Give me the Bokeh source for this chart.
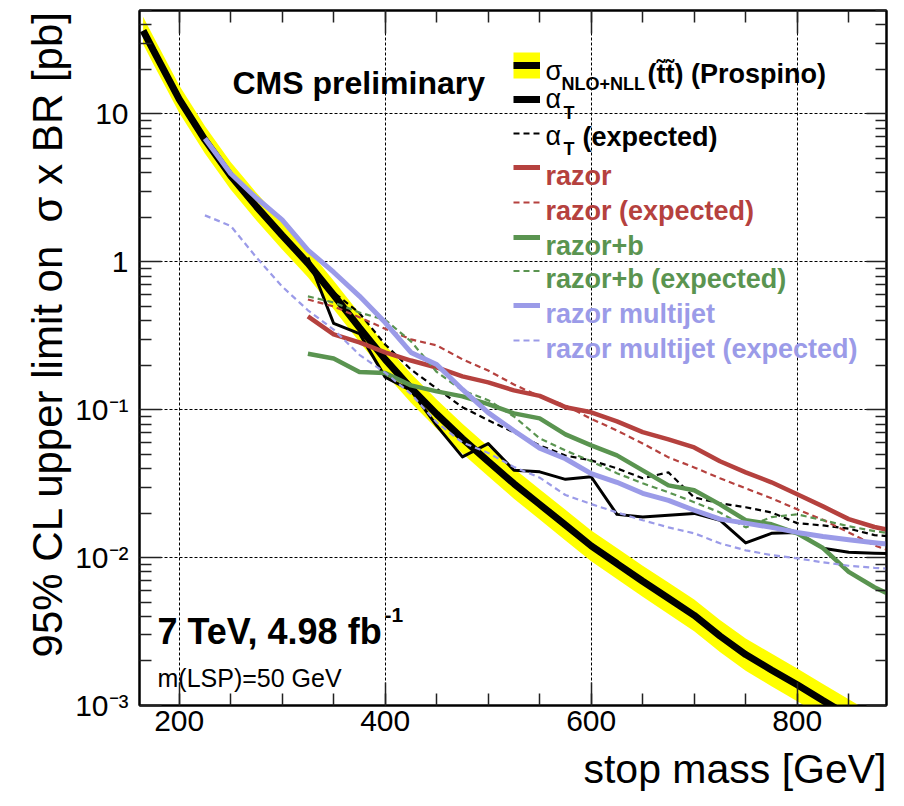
import math

from bokeh.plotting import figure
from bokeh.models import Label, Title, LinearAxis, LogAxis, FixedTicker, SingleIntervalTicker
from bokeh.embed import file_html
from bokeh.resources import INLINE

FONT = "Liberation Sans"

# ---------------------------------------------------------------- data
# NLO+NLL stop-pair cross section (Prospino) and its relative uncertainty
theory_mass = [165, 175, 200, 225, 250, 275, 300, 325, 350, 375, 400, 425, 450, 475, 500,
               525, 550, 575, 600, 625, 650, 675, 700, 725, 750, 775, 800, 825, 850, 875]
theory_xsec = [36.6, 26.9, 12.6, 6.68, 3.82, 2.36, 1.51, 0.977, 0.596, 0.359,
               0.219, 0.140, 0.0933, 0.0638, 0.0447, 0.0316, 0.0229, 0.0166, 0.0120, 0.00912,
               0.00692, 0.00531, 0.00407, 0.00295, 0.00221, 0.00174, 0.00138, 0.00108, 0.000851, 0.000668]
theory_rel_unc = [0.24, 0.24, 0.24, 0.24, 0.24, 0.24, 0.245, 0.245, 0.25, 0.25,
                  0.25, 0.255, 0.255, 0.26, 0.26, 0.265, 0.265, 0.27, 0.27, 0.275,
                  0.275, 0.28, 0.28, 0.285, 0.285, 0.29, 0.29, 0.295, 0.295, 0.30]

# 95% CL upper limits [pb]
signal_mass = [325, 350, 375, 400, 425, 450, 475, 500, 525, 550, 575, 600,
               625, 650, 675, 700, 725, 750, 775, 800, 825, 850, 875, 900]
alphaT_obs = [1.07, 0.383, 0.327, 0.166, 0.135, 0.078, 0.048, 0.059, 0.039, 0.038, 0.0338, 0.0352,
              0.0196, 0.0188, 0.0193, 0.0199, 0.0179, 0.01256, 0.0146, 0.0148, 0.01157, 0.01087, 0.01069, 0.0106]
alphaT_exp = [0.95, 0.62, 0.45, 0.276, 0.187, 0.139, 0.104, 0.0848, 0.0703, 0.0574, 0.049, 0.0454,
              0.0401, 0.0344, 0.0377, 0.0255, 0.0233, 0.0219, 0.0202, 0.0171, 0.0165, 0.0157, 0.0142, 0.0137]
razor_obs = [0.427, 0.323, 0.285, 0.244, 0.215, 0.193, 0.168, 0.153, 0.135, 0.124, 0.104, 0.096,
             0.0834, 0.0706, 0.063, 0.0556, 0.0448, 0.0377, 0.0323, 0.0268, 0.0222, 0.0182, 0.0161, 0.0148]
razor_exp = [0.556, 0.499, 0.421, 0.352, 0.299, 0.272, 0.219, 0.184, 0.148, 0.123, 0.107, 0.0867,
             0.0724, 0.0591, 0.0476, 0.0407, 0.0344, 0.0294, 0.0252, 0.0212, 0.018, 0.0148, 0.0121, 0.0105]
razorb_obs = [0.239, 0.222, 0.180, 0.177, 0.146, 0.133, 0.123, 0.109, 0.0944, 0.0873, 0.0681, 0.0574,
              0.0491, 0.0389, 0.0308, 0.0285, 0.0229, 0.0179, 0.0168, 0.0146, 0.0116, 0.0080, 0.0063, 0.0052]
razorb_exp = [0.584, 0.531, 0.454, 0.405, 0.29, 0.18, 0.135, 0.116, 0.09, 0.064, 0.053, 0.0448,
              0.0372, 0.0318, 0.0276, 0.0237, 0.0202, 0.016, 0.0188, 0.0196, 0.0179, 0.0163, 0.0151, 0.0143]

multijet_mass = [225, 250, 275, 300, 325, 350, 375, 400, 425, 450, 475, 500, 525, 550,
                 575, 600, 625, 650, 675, 700, 725, 750, 775, 800, 825, 850, 875, 900]
multijet_obs = [6.81, 3.95, 2.7, 1.92, 1.2, 0.85, 0.586, 0.388, 0.244, 0.202, 0.137, 0.0955, 0.072, 0.055,
                0.0466, 0.037, 0.0323, 0.0272, 0.0244, 0.0209, 0.0182, 0.0171, 0.016, 0.0148, 0.0139, 0.0132, 0.0126, 0.0121]
multijet_exp = [2.06, 1.75, 1.07, 0.68, 0.47, 0.348, 0.235, 0.178, 0.128, 0.082, 0.060, 0.051, 0.041, 0.0347,
                0.0265, 0.023, 0.0202, 0.0179, 0.016, 0.0146, 0.0125, 0.0112, 0.0104, 0.00989, 0.00929, 0.00881, 0.00853, 0.0083]

x_ticks = [200, 400, 600, 800]
y_ticks = [0.001, 0.01, 0.1, 1, 10]
y_tick_labels = ["10\u207b\u00b3", "10\u207b\u00b2", "10\u207b\u00b9", "1", "10"]

x_title = "stop mass [GeV]"
y_title = "95% CL upper limit on\u00a0 \u03c3 x BR [pb]"

# ---------------------------------------------------------------- style
RED = "#b5413e"
GREEN = "#5a9450"
BLUE = "#9b9be8"
YELLOW = "#ffff00"

W, H = 904, 806
FL, FR, FT, FB = 139, 886, 10, 705          # frame edges in canvas pixels
X_RANGE = (161.5, 886.7)
Y_RANGE = (1e-3, 50.0)


def xd(px):
    """canvas x pixel -> data x"""
    return X_RANGE[0] + (px - FL) * (X_RANGE[1] - X_RANGE[0]) / (FR - FL)


def yd(py):
    """canvas y pixel -> data y (log axis)"""
    l0, l1 = math.log10(Y_RANGE[0]), math.log10(Y_RANGE[1])
    return 10 ** (l0 + (FB - py) * (l1 - l0) / (FB - FT))


p = figure(width=W, height=H, x_range=X_RANGE, y_range=Y_RANGE, y_axis_type="log",
           output_backend="svg", toolbar_location=None,
           min_border_left=FL, min_border_right=W - FR,
           min_border_top=FT, min_border_bottom=H - FB)
p.background_fill_color = "white"
p.border_fill_color = "white"
p.outline_line_color = "black"
p.outline_line_width = 2

x_ticker = SingleIntervalTicker(interval=200, num_minor_ticks=4)
y_minor = [k * 10.0 ** e for e in range(-3, 2) for k in range(2, 10)]
y_ticker = FixedTicker(ticks=y_ticks, minor_ticks=y_minor)


def style_axis(ax, major_in, minor_in, show_labels):
    ax.major_tick_in = major_in
    ax.major_tick_out = 0
    ax.minor_tick_in = minor_in
    ax.minor_tick_out = 0
    ax.major_tick_line_color = "#222222"
    ax.minor_tick_line_color = "#222222"
    ax.major_tick_line_width = 1.5
    ax.minor_tick_line_width = 1.5
    ax.axis_line_color = "black"
    ax.axis_line_width = 2
    if show_labels:
        ax.major_label_text_font = FONT
        ax.major_label_text_font_size = "30px"
        ax.major_label_text_color = "black"
    else:
        # mirrored axis: ticks only
        ax.major_label_text_font_size = "1px"
        ax.major_label_text_alpha = 0
        ax.major_label_standoff = 0


xa = p.xaxis[0]
xa.ticker = x_ticker
style_axis(xa, 23, 12, True)
xa.major_label_standoff = 5

ya = p.yaxis[0]
ya.ticker = y_ticker
ya.major_label_overrides = dict(zip(y_ticks, y_tick_labels))
style_axis(ya, 22, 12, True)
ya.major_label_standoff = 11

top_ax = LinearAxis(ticker=SingleIntervalTicker(interval=200, num_minor_ticks=4))
style_axis(top_ax, 23, 12, False)
p.add_layout(top_ax, "above")

right_ax = LogAxis(ticker=FixedTicker(ticks=y_ticks, minor_ticks=y_minor))
style_axis(right_ax, 20, 11, False)
p.add_layout(right_ax, "right")

# axis titles, right-aligned at the ends of the axes
p.add_layout(Title(text=x_title, align="right", text_font=FONT, text_font_size="41px",
                   text_font_style="normal", text_color="black", standoff=21), "below")
p.add_layout(Title(text=y_title, align="right", text_font=FONT, text_font_size="42px",
                   text_font_style="normal", text_color="black", standoff=3), "left")

for g, t in ((p.xgrid[0], SingleIntervalTicker(interval=200)), (p.ygrid[0], FixedTicker(ticks=y_ticks))):
    g.ticker = t
    g.grid_line_color = "black"
    g.grid_line_width = 1
    g.grid_line_dash = "3 2"

# ---------------------------------------------------------------- curves
band_hi = [x * (1 + u) for x, u in zip(theory_xsec, theory_rel_unc)]
band_lo = [x / (1 + u) for x, u in zip(theory_xsec, theory_rel_unc)]
p.varea(x=theory_mass, y1=band_lo, y2=band_hi, fill_color=YELLOW)
p.line(theory_mass, theory_xsec, line_color="black", line_width=7)

DASH = "6 4"
p.line(signal_mass, alphaT_exp, line_color="black", line_width=2.2, line_dash=DASH)
p.line(signal_mass, alphaT_obs, line_color="black", line_width=3, line_join="round")
p.line(signal_mass, razor_exp, line_color=RED, line_width=2.2, line_dash=DASH)
p.line(signal_mass, razor_obs, line_color=RED, line_width=4.5, line_join="round")
p.line(signal_mass, razorb_exp, line_color=GREEN, line_width=2.2, line_dash=DASH)
p.line(signal_mass, razorb_obs, line_color=GREEN, line_width=4.5, line_join="round")
p.line(multijet_mass, multijet_exp, line_color=BLUE, line_width=2.2, line_dash=DASH)
p.line(multijet_mass, multijet_obs, line_color=BLUE, line_width=5, line_join="round")


# ---------------------------------------------------------------- texts
def label(px, py, text, size, color="black", bold=False, align="left"):
    p.add_layout(Label(x=xd(px), y=yd(py), text=text, text_font=FONT,
                       text_font_size=f"{size}px", text_color=color,
                       text_font_style="bold" if bold else "normal",
                       text_align=align, text_baseline="alphabetic"))


label(232, 82, "CMS preliminary", 32, bold=True)
label(157, 631, "7 TeV, 4.98 fb", 36, bold=True)
label(384, 614, "-1", 21, bold=True)
label(157, 677, "m(LSP)=50 GeV", 25)

# ---------------------------------------------------------------- legend
SX0, SX1, TX = 513, 539.5, 545
legend_rows = [65, 99, 133, 167, 202, 237, 270.5, 305, 340]


def swatch_bar(yc, half, color):
    p.quad(left=[xd(SX0)], right=[xd(SX1)], top=[yd(yc - half)], bottom=[yd(yc + half)],
           fill_color=color, line_color=None)


def swatch_dash(yc, color):
    p.line([xd(SX0), xd(SX1)], [yd(yc), yd(yc)], line_color=color, line_width=2.2, line_dash=DASH)


# theory
swatch_bar(legend_rows[0], 13, YELLOW)
swatch_bar(legend_rows[0], 3.5, "black")
label(TX, 70, "\u03c3", 27)
label(561, 83, "NLO+NLL", 18, bold=True)
label(647, 73, "(t\u0303t\u0303) (Prospino)", 27, bold=True)

# alpha_T
swatch_bar(legend_rows[1], 3.5, "black")
label(TX, 98, "\u03b1", 27)
label(563, 112, "T", 18, bold=True)

swatch_dash(legend_rows[2], "black")
label(TX, 135, "\u03b1", 27)
label(563, 148, "T", 18, bold=True)
label(582, 136, "(expected)", 27, bold=True)

legend_entries = [
    ("razor", RED, False),
    ("razor (expected)", RED, True),
    ("razor+b", GREEN, False),
    ("razor+b (expected)", GREEN, True),
    ("razor multijet", BLUE, False),
    ("razor multijet (expected)", BLUE, True),
]
for (text, color, dashed), yc in zip(legend_entries, legend_rows[3:]):
    if dashed:
        swatch_dash(yc, color)
    else:
        swatch_bar(yc, 2.5, color)
    label(TX, yc + 8, text, 27, color=color, bold=True)

open("out.html", "w").write(file_html(p, INLINE))
